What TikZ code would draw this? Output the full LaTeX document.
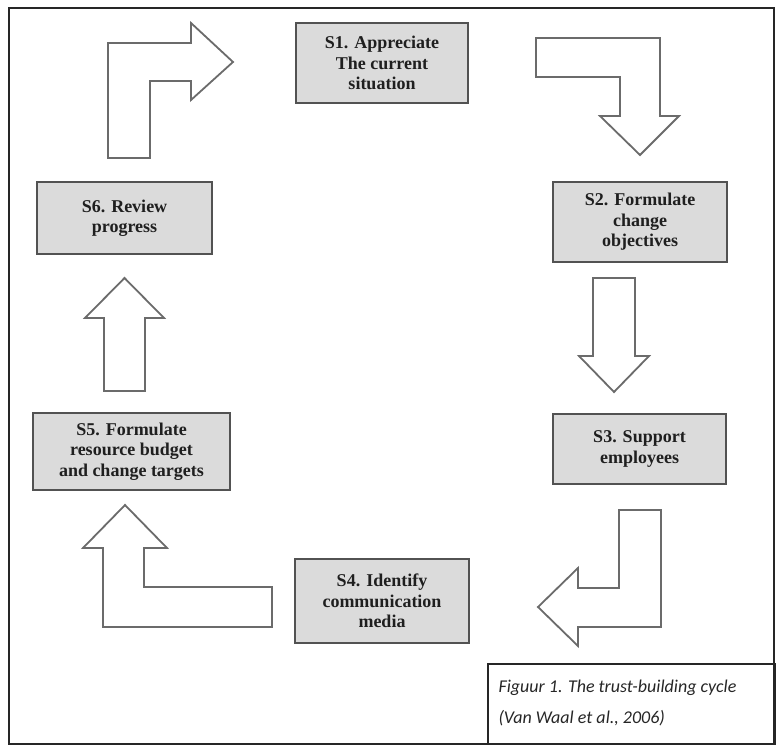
\documentclass[tikz,border=0pt]{standalone}
\usepackage{fontspec}
\setmainfont{Liberation Serif}
\newfontfamily\capfont{Carlito}
\begin{document}
\begin{tikzpicture}[x=1pt,y=-1pt,
  stepbox/.style={draw=black!68,line width=1.8pt,fill=black!14,inner sep=0pt,align=center,
     font=\fontsize{18}{20.5}\selectfont\bfseries,text=black!88},
  blockarrow/.style={draw=black!58,line width=1.8pt,fill=white,line join=miter},
  frame/.style={draw=black!85,line width=1.6pt}]
\useasboundingbox (0,0) rectangle (783,754);
\draw[frame] (9,8) rectangle (774,744);
% boxes
\node[stepbox,minimum width=172pt,minimum height=80pt] (s1) at (382,63) {S1. Appreciate\\The current\\situation};
\node[stepbox,minimum width=174pt,minimum height=80pt] (s2) at (640,222) {S2. Formulate\\change\\objectives};
\node[stepbox,minimum width=173pt,minimum height=70pt] (s3) at (639.5,449) {S3. Support\\employees};
\node[stepbox,minimum width=174pt,minimum height=84pt] (s4) at (382,601) {S4. Identify\\communication\\media};
\node[stepbox,minimum width=197pt,minimum height=77pt] (s5) at (131.5,451.5) {S5. Formulate\\resource budget\\and change targets};
\node[stepbox,minimum width=175pt,minimum height=72pt] (s6) at (124.5,218) {S6. Review\\progress};
% block arrows
% S6 -> S1
\draw[blockarrow] (108,158) -- (108,43) -- (191,43) -- (191,23) -- (233,62) -- (191,100) -- (191,81) -- (150,81) -- (150,158) -- cycle;
% S1 -> S2
\draw[blockarrow] (536,38) -- (660,38) -- (660,116) -- (679,116) -- (640,155) -- (600,116) -- (620,116) -- (620,77) -- (536,77) -- cycle;
% S2 -> S3
\draw[blockarrow] (593,278) -- (635,278) -- (635,356) -- (649,356) -- (614,392) -- (579,356) -- (593,356) -- cycle;
% S3 -> S4
\draw[blockarrow] (619,510) -- (661,510) -- (661,627) -- (578,627) -- (578,646) -- (538,607) -- (578,568) -- (578,588) -- (619,588) -- cycle;
% S4 -> S5
\draw[blockarrow] (272,627) -- (103,627) -- (103,548) -- (83,548) -- (125,505) -- (167,548) -- (144,548) -- (144,587) -- (272,587) -- cycle;
% S5 -> S6
\draw[blockarrow] (104,391) -- (104,318) -- (85,318) -- (124.5,278) -- (164,318) -- (145,318) -- (145,391) -- cycle;
% caption
\node[draw=black!85,line width=1.3pt,minimum width=287pt,minimum height=80pt,inner sep=0pt] (cap) at (631.5,704) {};
\node[anchor=west,font=\capfont\itshape\fontsize{18}{20}\selectfont,text=black!85] (c1) at (495,688) {Figuur 1. The trust-building cycle};
\node[anchor=west,font=\capfont\itshape\fontsize{18}{20}\selectfont,text=black!85] (c2) at (495,718) {(Van Waal et al., 2006)};
\end{tikzpicture}
\end{document}
